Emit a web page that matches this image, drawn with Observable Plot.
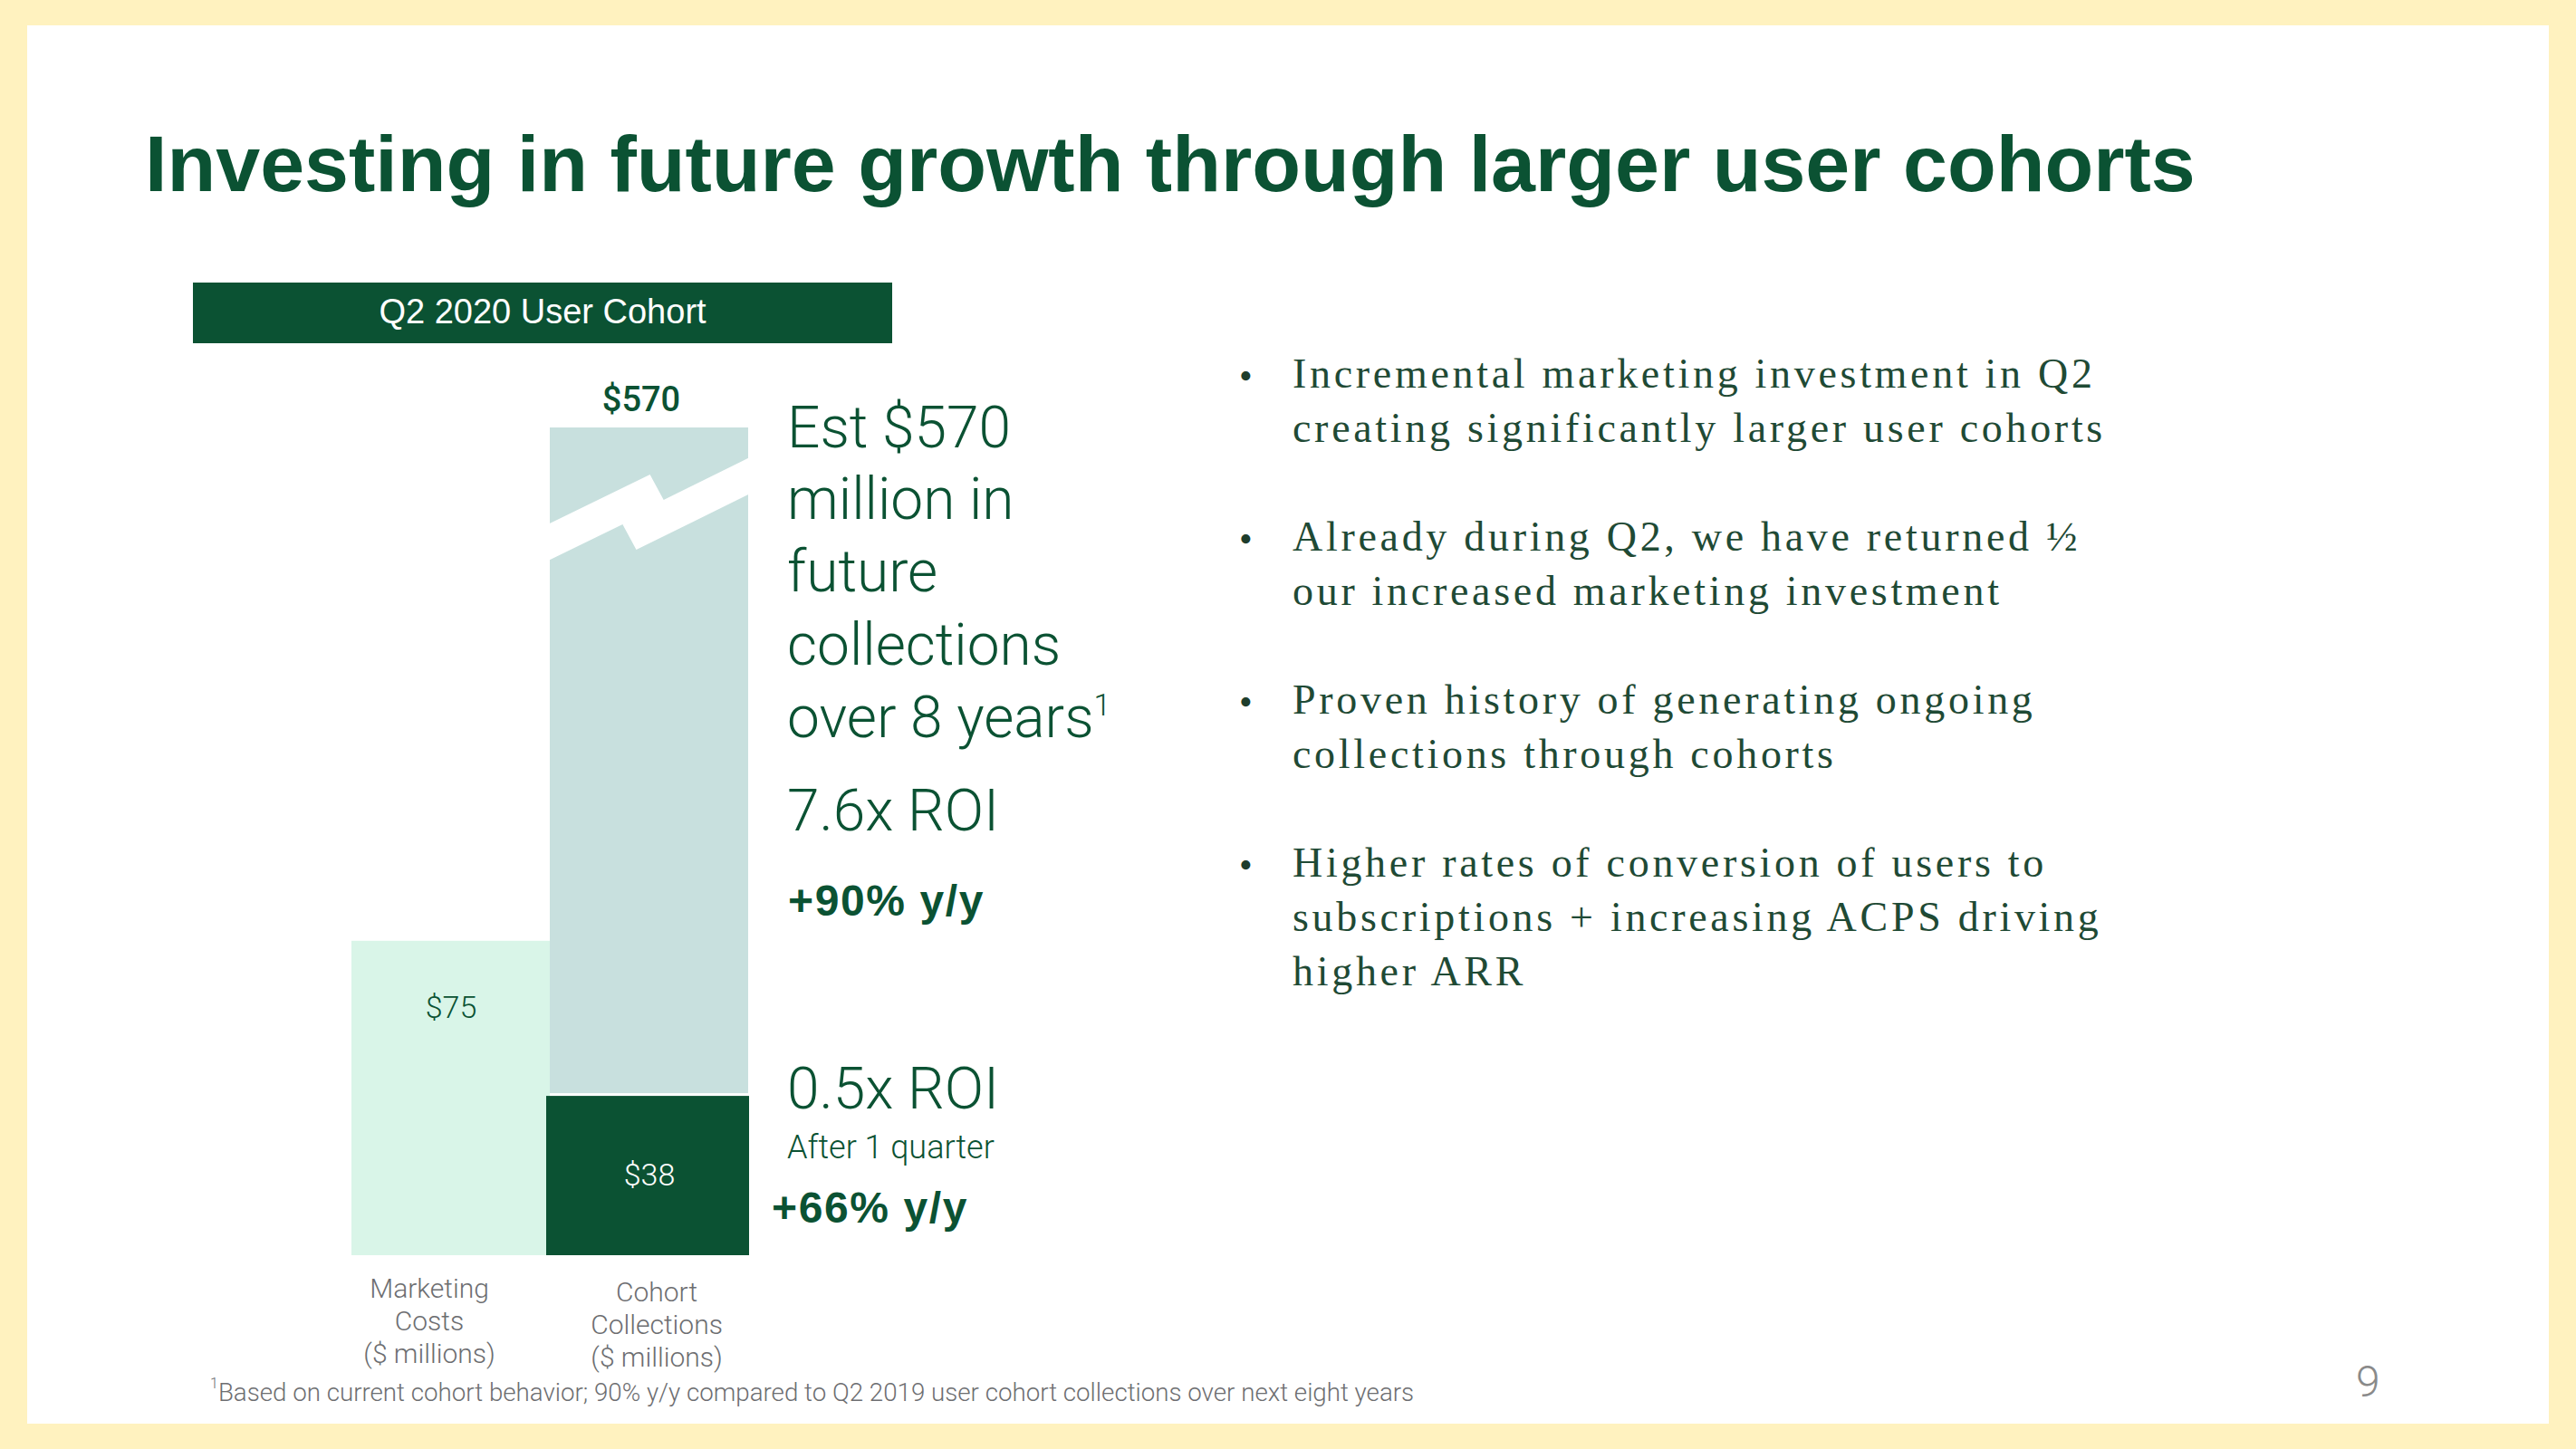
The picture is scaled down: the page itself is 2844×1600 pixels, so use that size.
<!DOCTYPE html>
<html><head><meta charset="utf-8">
<script src="https://cdn.jsdelivr.net/npm/d3@7"></script>
<script src="https://cdn.jsdelivr.net/npm/@observablehq/plot@0.6"></script>
<style>
html,body{margin:0;padding:0;}
body{width:2844px;height:1600px;background:#FFF2BF;position:relative;overflow:hidden;font-family:"Liberation Sans",Arial,sans-serif;}
#card{position:absolute;left:30px;top:28px;width:2784px;height:1544px;background:#fff;}
.t{position:absolute;white-space:nowrap;margin:0;}
#chart{position:absolute;left:0;top:0;width:1400px;height:1600px;}
#cohortBox{position:absolute;left:213px;top:312px;width:772px;height:67px;background:#0B5233;}
</style></head><body>
<div id="card"></div>
<div id="cohortBox"></div>
<div id="chart"></div>
<script>
// ---- data ----
const title = "Investing in future growth through larger user cohorts";
const cohortLabel = "Q2 2020 User Cohort";
const categories = ["Marketing Costs", "Cohort Collections"];
const categoryLabels = ["Marketing\nCosts\n($ millions)", "Cohort\nCollections\n($ millions)"];
const segments = ["Marketing costs", "Collections after 1 quarter", "Estimated collections over 8 years"];
const marketingCosts = [75];
const collectionsAfterQuarter = [38];
const collectionsEstimate = [570];
const headlineLines = ["Est $570", "million in", "future", "collections", "over 8 years"];
const roiLong = "7.6x ROI";
const growthLong = "+90% y/y";
const roiShort = "0.5x ROI";
const roiShortNote = "After 1 quarter";
const growthShort = "+66% y/y";
const bullets = [
  ["Incremental marketing investment in Q2", "creating significantly larger user cohorts"],
  ["Already during Q2, we have returned \u00BD", "our increased marketing investment"],
  ["Proven history of generating ongoing", "collections through cohorts"],
  ["Higher rates of conversion of users to", "subscriptions + increasing ACPS driving", "higher ARR"]
];
const footnote = "Based on current cohort behavior; 90% y/y compared to Q2 2019 user cohort collections over next eight years";
const pageNumber = "9";

// ---- table built from the arrays ----
const bars = [
  {category: categories[0], segment: segments[0], y1: 0, y2: marketingCosts[0], label: "$" + marketingCosts[0]},
  {category: categories[1], segment: segments[1], y1: 0, y2: collectionsAfterQuarter[0], label: "$" + collectionsAfterQuarter[0]},
  {category: categories[1], segment: segments[2], y1: collectionsAfterQuarter[0], y2: collectionsEstimate[0], label: "$" + collectionsEstimate[0]}
];

const GREEN = "#0B5233";
const SANS = "Roboto, 'Liberation Sans', Arial, sans-serif";
const yBreak = 178; // value where the axis break sits

// white "break" band drawn across the tall bar, placed by the scales
function breakMark(index, scales) {
  const bx = scales.x(categories[1]);
  let bw = scales.x.bandwidth;
  if (typeof bw === "function") bw = bw();
  if (!(bw > 0)) bw = scales.x(categories[1]) - scales.x(categories[0]);
  const yc = scales.y(yBreak);
  const shape = [[-0.01, 0.078], [0.505, -0.174], [0.574, -0.046], [1.01, -0.261],
                 [1.01, -0.078], [0.436, 0.206], [0.367, 0.078], [-0.01, 0.261]];
  const pts = shape.map(([u, v]) => [bx + u * bw, yc + v * bw]);
  const path = document.createElementNS("http://www.w3.org/2000/svg", "path");
  path.setAttribute("d", "M" + pts.map(p => p.join(",")).join("L") + "Z");
  path.setAttribute("fill", "white");
  return path;
}

const axisStyle = {tickSize: 0, tickPadding: 21, tickFormat: d => categoryLabels[categories.indexOf(d)], fontSize: 30, lineHeight: 1.2, color: "#6d6e71", fontWeight: 300, fontFamily: SANS};

const chart = Plot.plot({
  width: 1400,
  height: 1600,
  marginTop: 472, marginBottom: 214, marginLeft: 387, marginRight: 574,
  style: {background: "transparent", fontFamily: SANS, overflow: "visible"},
  x: {type: "band", domain: categories, range: [387, 826], padding: 0, axis: null, label: null},
  y: {type: "linear", domain: [0, yBreak, collectionsEstimate[0]], range: [1386, 562, 472], axis: null, label: null},
  color: {domain: segments, range: ["#D9F5E8", GREEN, "#C8E0DE"]},
  marks: [
    Plot.barY(bars.filter(d => d.segment === segments[0]), {x: "category", y1: "y1", y2: "y2", fill: "segment"}),
    Plot.barY(bars.filter(d => d.segment === segments[2]), {x: "category", y1: "y1", y2: "y2", fill: "segment", insetBottom: 3}),
    Plot.barY(bars.filter(d => d.segment === segments[1]), {x: "category", y1: "y1", y2: "y2", fill: "segment", insetLeft: -4, insetRight: -1}),
    breakMark,
    Plot.text(bars.filter(d => d.segment === segments[0]), {x: "category", y: "y2", text: "label", dy: 74, fill: GREEN, fontSize: 34, fontWeight: 300, fontFamily: SANS}),
    Plot.text(bars.filter(d => d.segment === segments[1]), {x: "category", y: d => d.y2 / 2, text: "label", fill: "white", fontSize: 34, fontWeight: 300, fontFamily: SANS}),
    Plot.text(bars.filter(d => d.segment === segments[2]), {x: "category", y: "y2", text: "label", dx: -9, dy: -19, lineAnchor: "bottom", fill: GREEN, fontSize: 38, fontWeight: 500, fontFamily: SANS}),
    Plot.axisX([categories[0]], {...axisStyle, dx: -24}),
    Plot.axisX([categories[1]], {...axisStyle, dx: 8, dy: 4})
  ]
});
document.getElementById("chart").appendChild(chart);

// ---- slide text ----
const ASC = {sans: 0.8465, serif: 0.8375, roboto: 0.842};
function addText(txt, x, baseline, size, o = {}) {
  const d = document.createElement("div");
  d.className = "t";
  const fam = o.family || "roboto";
  d.style.fontFamily = fam === "serif" ? "'Liberation Serif', 'Times New Roman', serif" : fam === "sans" ? "'Liberation Sans', Arial, sans-serif" : SANS;
  d.style.fontSize = size + "px";
  d.style.lineHeight = size + "px";
  d.style.top = (baseline - ASC[fam] * size) + "px";
  d.style.color = o.color || GREEN;
  d.style.fontWeight = o.weight || 400;
  if (o.spacing) d.style.letterSpacing = o.spacing + "px";
  if (o.center !== undefined) { d.style.left = "0px"; d.style.width = (2 * o.center) + "px"; d.style.textAlign = "center"; }
  else d.style.left = x + "px";
  if (o.html) d.innerHTML = txt; else d.textContent = txt;
  document.body.appendChild(d);
  return d;
}

addText(title, 160, 211, 88, {family: "sans", weight: 700});
addText(cohortLabel, 0, 357, 38, {family: "sans", color: "#ffffff", center: 599});

const headBase = [495, 574, 654, 735, 815];
headlineLines.forEach((line, i) => {
  const el = addText(line, 869, headBase[i], 64, {weight: 300});
  if (i === headlineLines.length - 1) {
    const sup = document.createElement("span");
    sup.textContent = "1";
    sup.style.fontSize = "34px";
    sup.style.position = "relative";
    sup.style.top = "-24px";
    el.appendChild(sup);
  }
});
addText(roiLong, 869, 918, 64, {weight: 300});
addText(growthLong, 870, 1012, 48, {family: "sans", weight: 700, spacing: 1.6});
addText(roiShort, 869, 1225, 64, {weight: 300});
addText(roiShortNote, 869, 1279, 36, {weight: 300});
addText(growthShort, 852, 1351, 48, {family: "sans", weight: 700, spacing: 1.6});

const bulletBase = [[429, 489], [609, 669], [789, 849], [969, 1029, 1089]];
bullets.forEach((lines, i) => {
  addText("\u2022", 1368, bulletBase[i][0], 42, {family: "serif", color: "#1E3D2C"});
  lines.forEach((line, j) => addText(line, 1427, bulletBase[i][j], 46, {family: "serif", color: "#1F4A35", spacing: 3.7}));
});

addText("<sup style='font-size:16px;position:relative;top:-4px'>1</sup>" + footnote, 232, 1541, 27.7, {color: "#6d6e71", weight: 300, html: true});
addText(pageNumber, 2601, 1542, 48, {color: "#8a8a8a", weight: 300});
</script>
</body></html>
